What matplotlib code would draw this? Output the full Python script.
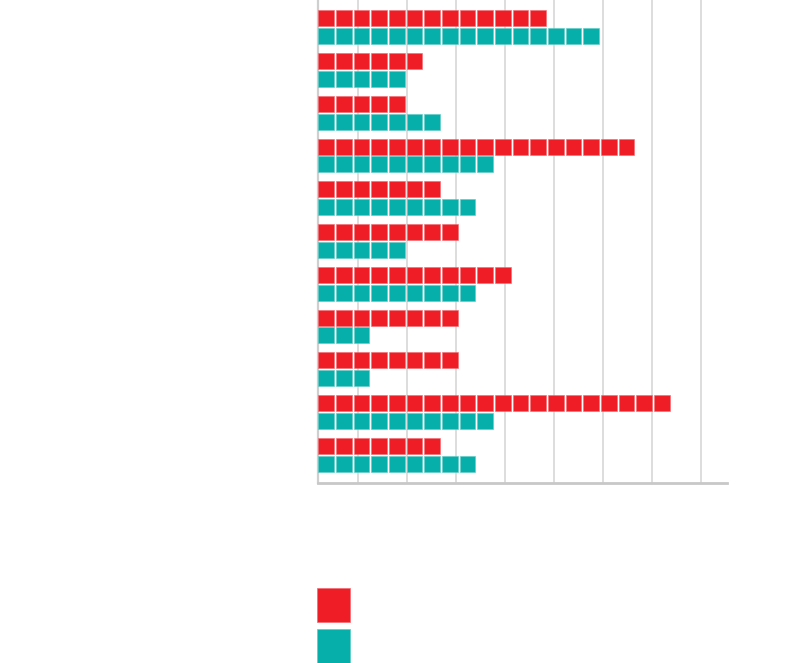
import matplotlib
matplotlib.use("Agg")
import matplotlib.pyplot as plt
from matplotlib.patches import Rectangle
import numpy as np

# Data: number of squares per category for each series
categories = list(range(11))
red_counts = [13, 6, 5, 18, 7, 8, 11, 8, 8, 20, 7]
teal_counts = [16, 5, 7, 10, 9, 5, 9, 3, 3, 10, 9]
grid_positions = [2.30, 5.05, 7.84, 10.62, 13.39, 16.16, 18.94, 21.71]

RED = "#EE1D26"
TEAL = "#06AFAA"

fig = plt.figure(figsize=(8, 6.63), dpi=100)
ax = fig.add_axes([317.7 / 800, (663 - 483.3) / 663, 409 / 800, 483.3 / 663])

sq_w = 0.90
sq_h = 0.374
red_off = 0.241
teal_off = 0.655

for i, (rc, tc) in enumerate(zip(red_counts, teal_counts)):
    ax.barh([i + red_off] * rc, [sq_w] * rc, left=np.arange(rc) + 0.03,
            height=sq_h, align="edge", color=RED, edgecolor="#F26A70", linewidth=0.4, zorder=3)
    ax.barh([i + teal_off] * tc, [sq_w] * tc, left=np.arange(tc) + 0.03,
            height=sq_h, align="edge", color=TEAL, edgecolor="#5CCBC7", linewidth=0.4, zorder=3)

ax.set_xlim(0, 23.15)
ax.set_ylim(483.3 / 42.77, 0)
for g in grid_positions:
    ax.axvline(g, color="#DADADA", linewidth=1.3, zorder=1)

for s in ["top", "right"]:
    ax.spines[s].set_visible(False)
ax.spines["left"].set_color("#CFCFCF")
ax.spines["left"].set_linewidth(1.6)
ax.spines["bottom"].set_color("#C8C8C8")
ax.spines["bottom"].set_linewidth(2.0)
ax.set_xticks([])
ax.set_yticks([])

# Legend swatches (no text)
W, H = 800, 663
for y_top, col, ec in [(588, RED, "#F26A70"), (629.3, TEAL, "#5CCBC7")]:
    fig.add_artist(Rectangle((316.7 / W, (H - y_top - 33.6) / H), 33.4 / W, 33.6 / H,
                             transform=fig.transFigure, facecolor=col, edgecolor=ec, linewidth=0.5))

fig.savefig("out.png", dpi=100)
